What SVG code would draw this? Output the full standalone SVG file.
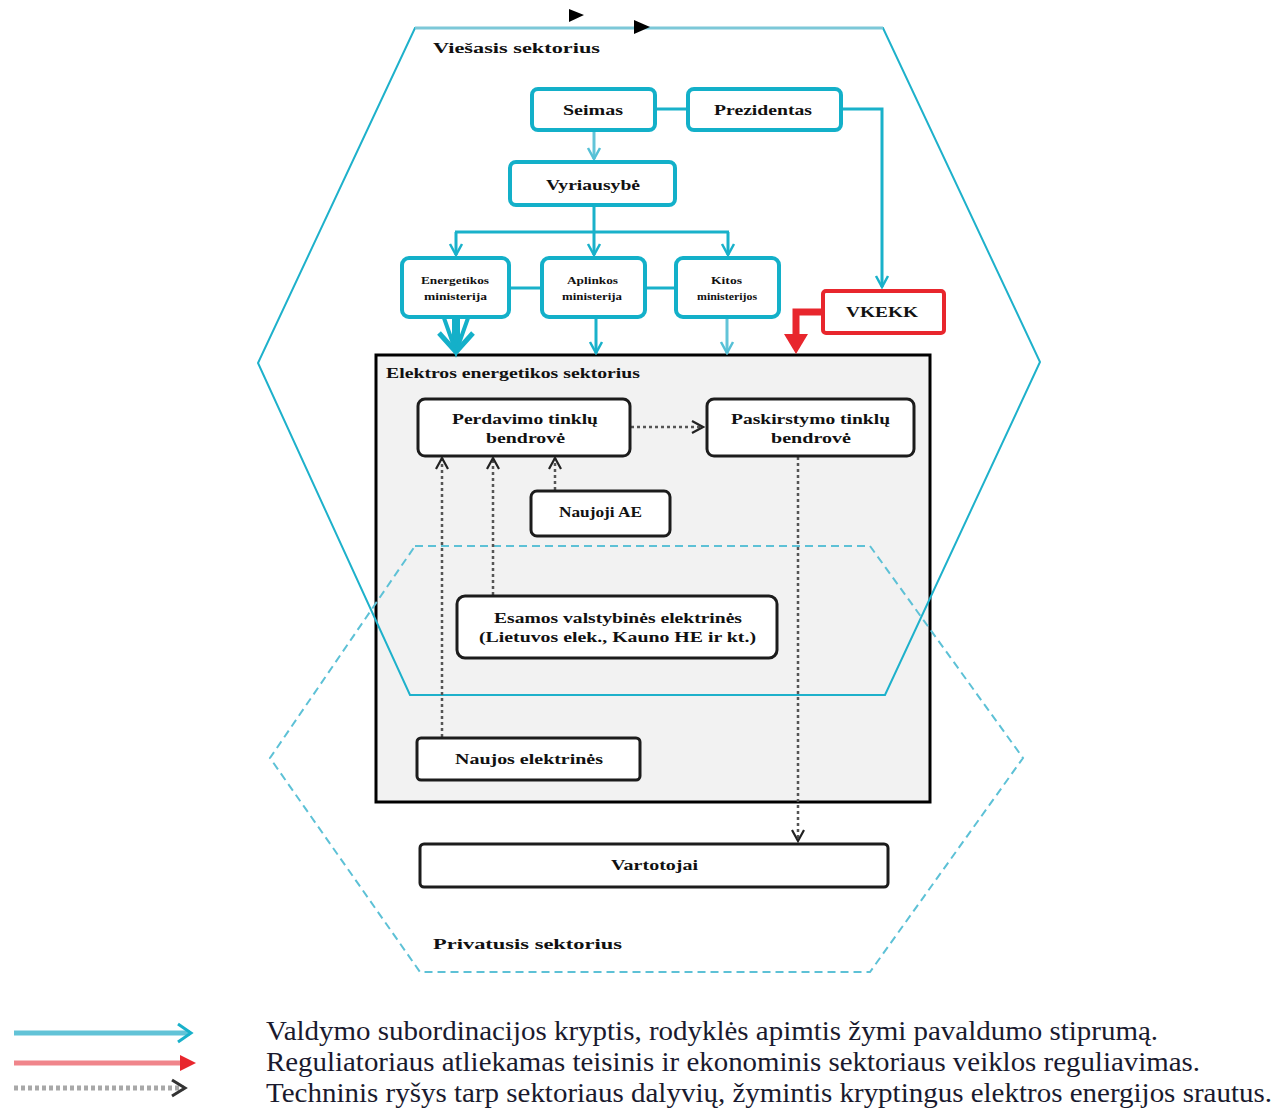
<svg xmlns="http://www.w3.org/2000/svg" width="1288" height="1111" viewBox="0 0 1288 1111">
<style>
.cy{fill:none;stroke:#19b1ca;stroke-width:3}
.cyl{fill:none;stroke:#62c4d8;stroke-width:3}
.cbox{fill:#fff;stroke:#13b0c9;stroke-width:4}
.bbox{fill:#fff;stroke:#1c1c1c;stroke-width:3}
.dot{fill:none;stroke:#555;stroke-width:2.5;stroke-dasharray:3 3}
.t{font-family:"Liberation Serif","Times New Roman",serif;font-weight:bold;fill:#111;font-size:14px}
.s{font-size:10px}
.lg{font-family:"Liberation Serif","Times New Roman",serif;font-size:28px;fill:#1a1a2e}
</style>
<defs>
<marker id="cyA" markerUnits="userSpaceOnUse" viewBox="0 0 16 16" markerWidth="16" markerHeight="16" refX="14" refY="8" orient="auto">
<path d="M3,2 L14,8 L3,14" fill="none" stroke="#19b1ca" stroke-width="2.5"/>
</marker>
<marker id="cyAl" markerUnits="userSpaceOnUse" viewBox="0 0 16 16" markerWidth="16" markerHeight="16" refX="14" refY="8" orient="auto">
<path d="M3,2 L14,8 L3,14" fill="none" stroke="#55c0d6" stroke-width="2.5"/>
</marker>
<marker id="dA" markerUnits="userSpaceOnUse" viewBox="0 0 16 16" markerWidth="16" markerHeight="16" refX="14" refY="8" orient="auto">
<path d="M3,2 L14,8 L3,14" fill="none" stroke="#222" stroke-width="2.2"/>
</marker>
</defs>

<!-- sector box -->
<g id="elektros-sektorius">
<rect x="376" y="355" width="554" height="447" fill="#f2f2f2" stroke="#000" stroke-width="3"/>
<text class="t" x="386" y="378" font-size="13" textLength="254" lengthAdjust="spacingAndGlyphs">Elektros energetikos sektorius</text>
</g>

<!-- hexagons -->
<g id="viesasis-sektorius">
<polygon points="415,28 883,28 1040,362 885,695 410,695 258,363" fill="none" stroke="#1eb1cb" stroke-width="2"/>
<line x1="415" y1="28" x2="883" y2="28" stroke="#7cc8d8" stroke-width="3"/>
<text class="t" x="433" y="53" font-size="15" textLength="167" lengthAdjust="spacingAndGlyphs">Viešasis sektorius</text>
</g>
<g id="privatusis-sektorius">
<polygon points="415,546 870,546 1023,758 870,972 420,972 270,758" fill="none" stroke="#5dc1d6" stroke-width="2" stroke-dasharray="8 5"/>
<text class="t" x="433" y="949" font-size="15" textLength="189" lengthAdjust="spacingAndGlyphs">Privatusis sektorius</text>
</g>

<!-- small marks at top -->
<g id="top-marks">
<polygon points="569,9 584,15 569,22" fill="#000"/>
<polygon points="634,20 650,27 634,34" fill="#000"/>
</g>

<!-- connectors -->
<g id="connectors">
<line class="cy" x1="655" y1="109" x2="688" y2="109"/>
<polyline class="cy" points="841,109 882,109 882,287" marker-end="url(#cyA)"/>
<line class="cyl" x1="594" y1="130" x2="594" y2="159" marker-end="url(#cyAl)"/>
<line class="cy" x1="594" y1="205" x2="594" y2="232"/>
<line class="cy" x1="455" y1="232" x2="729" y2="232"/>
<line class="cy" x1="456" y1="232" x2="456" y2="255" marker-end="url(#cyA)"/>
<line class="cy" x1="594" y1="232" x2="594" y2="255" marker-end="url(#cyA)"/>
<line class="cy" x1="728" y1="232" x2="728" y2="255" marker-end="url(#cyA)"/>
<line class="cy" x1="509" y1="288" x2="542" y2="288"/>
<line class="cy" x1="645" y1="288" x2="676" y2="288"/>
<!-- strong arrow from Energetikos -->
<line x1="456" y1="318" x2="456" y2="350" stroke="#14b0c9" stroke-width="8"/>
<polyline points="444,318 456,352 468,318" fill="none" stroke="#14b0c9" stroke-width="4"/>
<polyline points="439,333 456,352 473,333" fill="none" stroke="#14b0c9" stroke-width="5"/>
<line class="cy" x1="596" y1="318" x2="596" y2="353" marker-end="url(#cyA)"/>
<line class="cyl" x1="727" y1="318" x2="727" y2="353" stroke-width="2.5" marker-end="url(#cyAl)"/>
<!-- regulator -->
<polyline points="823,312 796,312 796,338" fill="none" stroke="#e8262d" stroke-width="7"/>
<polygon points="784,334 808,334 796,354" fill="#e8262d"/>
<!-- technical -->
<line class="dot" x1="631" y1="427" x2="703" y2="427" marker-end="url(#dA)"/>
<line class="dot" x1="442" y1="737" x2="442" y2="458" marker-end="url(#dA)"/>
<line class="dot" x1="493" y1="595" x2="493" y2="458" marker-end="url(#dA)"/>
<line class="dot" x1="555" y1="490" x2="555" y2="458" marker-end="url(#dA)"/>
<line class="dot" x1="798" y1="457" x2="798" y2="841" marker-end="url(#dA)"/>
</g>

<!-- nodes -->
<g id="seimas">
<rect class="cbox" x="532" y="89" width="123" height="41" rx="6"/>
<text class="t" x="563" y="115" textLength="60" lengthAdjust="spacingAndGlyphs">Seimas</text>
</g>
<g id="prezidentas">
<rect class="cbox" x="688" y="89" width="153" height="41" rx="6"/>
<text class="t" x="714" y="115" textLength="98" lengthAdjust="spacingAndGlyphs">Prezidentas</text>
</g>
<g id="vyriausybe">
<rect class="cbox" x="510" y="162" width="165" height="43" rx="6"/>
<text class="t" x="546" y="190" textLength="94" lengthAdjust="spacingAndGlyphs">Vyriausybė</text>
</g>
<g id="energetikos-ministerija">
<rect class="cbox" x="402" y="258" width="107" height="59" rx="7"/>
<text class="t s" x="421" y="284" textLength="68" lengthAdjust="spacingAndGlyphs">Energetikos</text>
<text class="t s" x="424" y="300" textLength="63" lengthAdjust="spacingAndGlyphs">ministerija</text>
</g>
<g id="aplinkos-ministerija">
<rect class="cbox" x="542" y="258" width="103" height="59" rx="7"/>
<text class="t s" x="567" y="284" textLength="51" lengthAdjust="spacingAndGlyphs">Aplinkos</text>
<text class="t s" x="562" y="300" textLength="60" lengthAdjust="spacingAndGlyphs">ministerija</text>
</g>
<g id="kitos-ministerijos">
<rect class="cbox" x="676" y="258" width="103" height="59" rx="7"/>
<text class="t s" x="711" y="284" textLength="31" lengthAdjust="spacingAndGlyphs">Kitos</text>
<text class="t s" x="697" y="300" textLength="60" lengthAdjust="spacingAndGlyphs">ministerijos</text>
</g>
<g id="vkekk">
<rect x="823" y="291" width="121" height="42" rx="3" fill="#fff" stroke="#e8262d" stroke-width="4"/>
<text class="t" x="846" y="317" textLength="72" lengthAdjust="spacingAndGlyphs">VKEKK</text>
</g>
<g id="perdavimo">
<rect class="bbox" x="418" y="399" width="212" height="57" rx="7"/>
<text class="t" x="452" y="424" font-size="13" textLength="146" lengthAdjust="spacingAndGlyphs">Perdavimo tinklų</text>
<text class="t" x="486" y="443" font-size="13" textLength="79" lengthAdjust="spacingAndGlyphs">bendrovė</text>
</g>
<g id="paskirstymo">
<rect class="bbox" x="707" y="399" width="207" height="57" rx="7"/>
<text class="t" x="731" y="424" font-size="13" textLength="159" lengthAdjust="spacingAndGlyphs">Paskirstymo tinklų</text>
<text class="t" x="771" y="443" font-size="13" textLength="80" lengthAdjust="spacingAndGlyphs">bendrovė</text>
</g>
<g id="naujoji-ae">
<rect class="bbox" x="531" y="491" width="139" height="45" rx="6"/>
<text class="t" x="559" y="517" textLength="83" lengthAdjust="spacingAndGlyphs">Naujoji AE</text>
</g>
<g id="esamos-elektrines">
<rect class="bbox" x="457" y="596" width="320" height="62" rx="8" stroke="#4a4a4a"/>
<text class="t" x="494" y="623" font-size="13" textLength="248" lengthAdjust="spacingAndGlyphs">Esamos valstybinės elektrinės</text>
<text class="t" x="479" y="642" font-size="13" textLength="277" lengthAdjust="spacingAndGlyphs">(Lietuvos elek., Kauno HE ir kt.)</text>
</g>
<g id="naujos-elektrines">
<rect class="bbox" x="417" y="738" width="223" height="42" rx="4"/>
<text class="t" x="455" y="764" font-size="13" textLength="148" lengthAdjust="spacingAndGlyphs">Naujos elektrinės</text>
</g>
<g id="vartotojai">
<rect class="bbox" x="420" y="844" width="468" height="43" rx="4"/>
<text class="t" x="611" y="870" textLength="87" lengthAdjust="spacingAndGlyphs">Vartotojai</text>
</g>

<!-- legend -->
<g id="legend">
<line x1="14" y1="1033" x2="190" y2="1033" stroke="#62c3d7" stroke-width="5"/>
<polyline points="178,1024 191,1033 178,1042" fill="none" stroke="#19b1ca" stroke-width="3"/>
<line x1="14" y1="1063" x2="183" y2="1063" stroke="#f0858b" stroke-width="5"/>
<polygon points="180,1055 196,1063 180,1071" fill="#e8262d"/>
<line x1="14" y1="1088" x2="184" y2="1088" stroke="#a8a8a8" stroke-width="5" stroke-dasharray="4 3"/>
<polyline points="172,1080 185,1088 172,1096" fill="none" stroke="#333" stroke-width="3"/>
<text class="lg" x="266" y="1040" textLength="892" lengthAdjust="spacingAndGlyphs">Valdymo subordinacijos kryptis, rodyklės apimtis žymi pavaldumo stiprumą.</text>
<text class="lg" x="266" y="1071" textLength="934" lengthAdjust="spacingAndGlyphs">Reguliatoriaus atliekamas teisinis ir ekonominis sektoriaus veiklos reguliavimas.</text>
<text class="lg" x="266" y="1102" textLength="1006" lengthAdjust="spacingAndGlyphs">Techninis ryšys tarp sektoriaus dalyvių, žymintis kryptingus elektros energijos srautus.</text>
</g>
</svg>
